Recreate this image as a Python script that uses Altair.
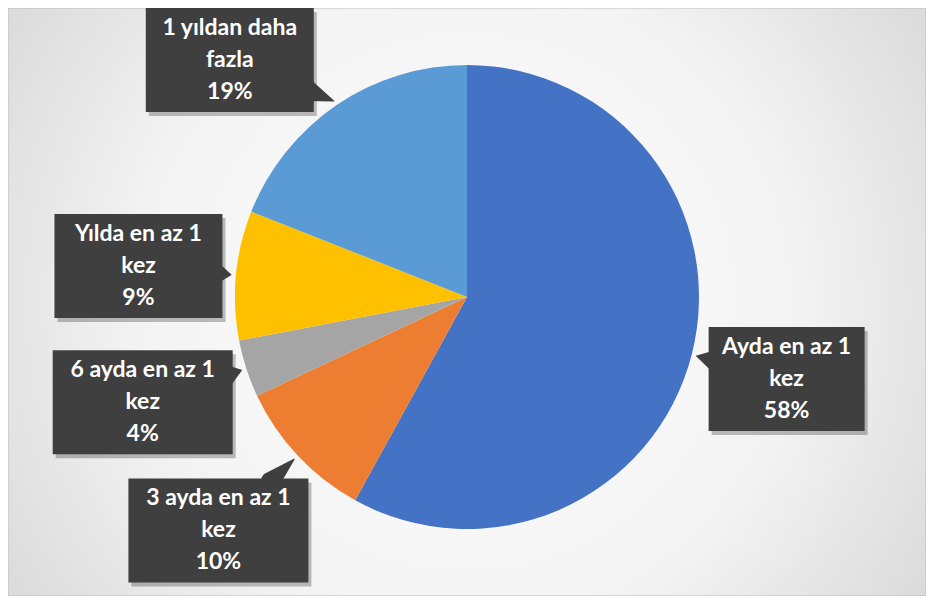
import math
import altair as alt
import pandas as pd

# ---- data ----
categories = ["Ayda en az 1 kez", "3 ayda en az 1 kez", "6 ayda en az 1 kez",
              "Yılda en az 1 kez", "1 yıldan daha fazla"]
percents = [58, 10, 4, 9, 19]
colors = ["#4472C4", "#ED7D31", "#A5A5A5", "#FFC000", "#5B9BD5"]

# ---- layout / style ----
W, H = 918, 588
CX, CY = 459, 289
R = 232
LABEL_R = 330
BOX_H = 104
GAP = 8
BOX_COLOR = "#3f3f3f"
FONT = "Lato"
FONT_SIZE = 23
LINE_H = 32

total = sum(percents)
pie_rows, box_rows, trail_rows = [], [], []
cum = 0
for i, (cat, p) in enumerate(zip(categories, percents)):
    mid = (cum + p / 2) / total * 2 * math.pi
    cum += p
    sx, sy = math.sin(mid), -math.cos(mid)
    head, tail = cat.rsplit(" ", 1)
    text = f"{head}\n{tail}\n{p}%"
    bw = 12 * len(head) + 12
    hw, hh = bw / 2, BOX_H / 2

    def place(r):
        x = CX + r * sx
        y = CY + r * sy
        x = min(max(x, hw), W - hw)
        y = min(max(y, hh), H - hh)
        return x, y

    def nearest(x, y):
        nx = min(max(CX, x - hw), x + hw)
        ny = min(max(CY, y - hh), y + hh)
        return math.hypot(nx - CX, ny - CY)

    r = LABEL_R
    x, y = place(r)
    while nearest(x, y) < R + GAP and r < 700:
        r += 1
        x, y = place(r)

    pie_rows.append({"cat": cat, "value": p, "order": i})
    box_rows.append({"cat": cat, "text": text, "x": x, "y": y,
                     "x1": x - hw, "x2": x + hw, "y1": y - hh, "y2": y + hh,
                     "sx1": x - hw + 3, "sx2": x + hw + 3,
                     "sy1": y - hh + 4, "sy2": y + hh + 4})

    # pointer wedge from box edge toward the pie edge
    tx, ty = CX + (R + 5) * sx, CY + (R + 5) * sy
    dx, dy = tx - x, ty - y
    dist = math.hypot(dx, dy)
    tcands = []
    if abs(dx) > 1e-9:
        tcands.append(hw / abs(dx))
    if abs(dy) > 1e-9:
        tcands.append(hh / abs(dy))
    t = min(tcands)
    if t < 1:
        t0 = max(t - 4 / dist, 0)
        trail_rows.append({"cat": cat, "px": x + dx * t0, "py": y + dy * t0,
                           "s": 20, "k": 0})
        trail_rows.append({"cat": cat, "px": tx, "py": ty, "s": 0, "k": 1})

pie_df = pd.DataFrame(pie_rows)
box_df = pd.DataFrame(box_rows)
trail_df = pd.DataFrame(trail_rows)

bg_grad = alt.RadialGradient(
    gradient="radial",
    stops=[alt.GradientStop(color="#ffffff", offset=0),
           alt.GradientStop(color="#f3f3f3", offset=0.5),
           alt.GradientStop(color="#cdcdcd", offset=1)],
    x1=0.5, y1=0.5, r1=0, x2=0.5, y2=0.5, r2=0.72,
)

background = alt.Chart(pd.DataFrame({"a": [0]})).mark_rect(
    fill=bg_grad, stroke="#bdbdbd", strokeWidth=1
).encode(x=alt.value(0), x2=alt.value(W), y=alt.value(0), y2=alt.value(H))

pie = alt.Chart(pie_df).mark_arc(outerRadius=R).encode(
    theta=alt.Theta("value:Q", stack=True),
    color=alt.Color("cat:N", scale=alt.Scale(domain=categories, range=colors), legend=None),
    order=alt.Order("order:Q"),
    x=alt.value(CX),
    y=alt.value(CY),
)

shadow = alt.Chart(box_df).mark_rect(color="black", opacity=0.25).encode(
    x=alt.X("sx1:Q", scale=None, axis=None),
    x2="sx2:Q",
    y=alt.Y("sy1:Q", scale=None, axis=None),
    y2="sy2:Q",
)

pointers = alt.Chart(trail_df).mark_trail(color=BOX_COLOR).encode(
    x=alt.X("px:Q", scale=None, axis=None),
    y=alt.Y("py:Q", scale=None, axis=None),
    size=alt.Size("s:Q", scale=None, legend=None),
    detail="cat:N",
    order=alt.Order("k:Q"),
)

boxes = alt.Chart(box_df).mark_rect(color=BOX_COLOR).encode(
    x=alt.X("x1:Q", scale=None, axis=None),
    x2="x2:Q",
    y=alt.Y("y1:Q", scale=None, axis=None),
    y2="y2:Q",
)

labels = alt.Chart(box_df).mark_text(
    font=FONT, fontWeight="bold", fontSize=FONT_SIZE, color="white",
    lineBreak="\n", lineHeight=LINE_H, align="center", baseline="middle",
    dy=-LINE_H,
).encode(
    x=alt.X("x:Q", scale=None, axis=None),
    y=alt.Y("y:Q", scale=None, axis=None),
    text="text:N",
)

chart = alt.layer(background, pie, shadow, pointers, boxes, labels).properties(
    width=W, height=H, padding=0, autosize=alt.AutoSizeParams(type="none")
).configure_view(stroke=None)

chart.save("out.html", embed_options={"renderer": "svg", "actions": False})
